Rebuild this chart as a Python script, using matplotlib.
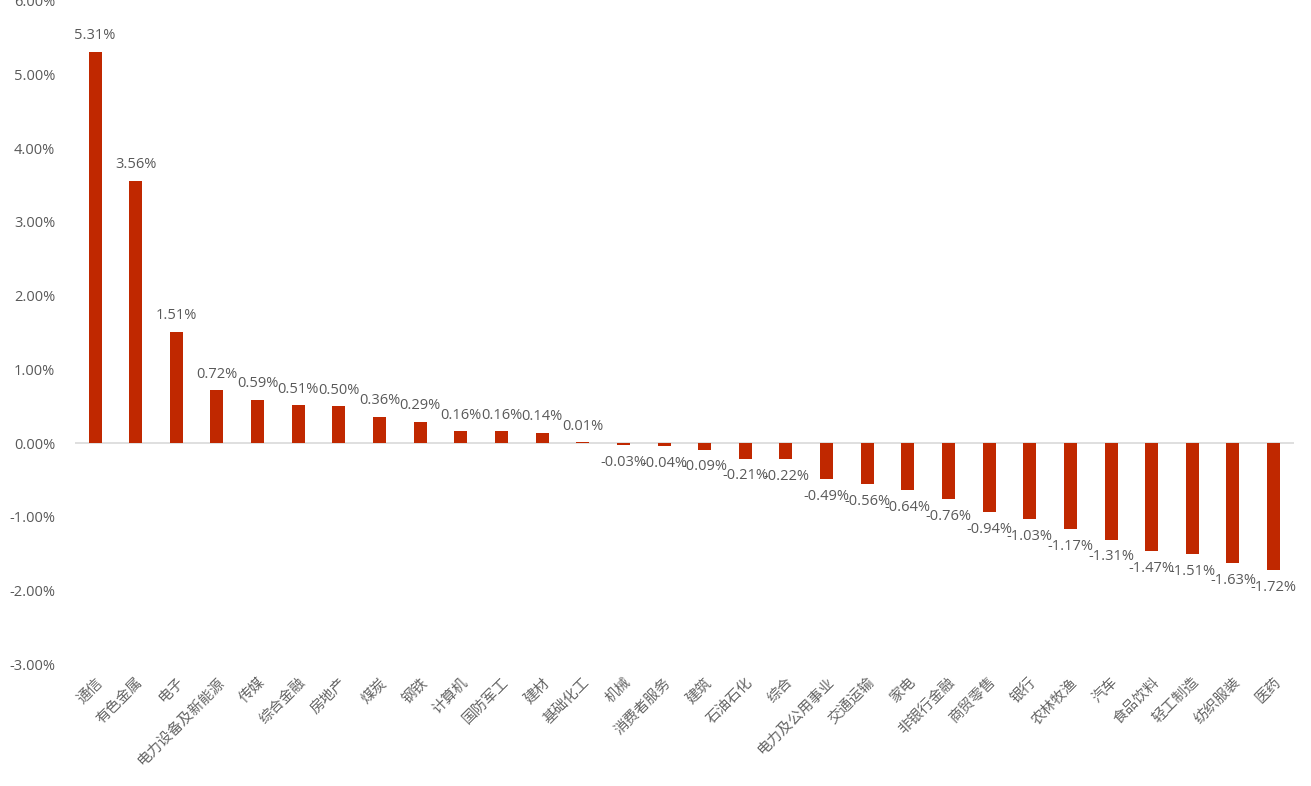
import matplotlib.pyplot as plt
from matplotlib.ticker import FuncFormatter

plt.rcParams['font.family'] = ['Open Sans', 'Noto Sans CJK SC', 'DejaVu Sans']

industries = ["通信", "有色金属", "电子", "电力设备及新能源", "传媒", "综合金融", "房地产",
              "煤炭", "钢铁", "计算机", "国防军工", "建材", "基础化工", "机械", "消费者服务",
              "建筑", "石油石化", "综合", "电力及公用事业", "交通运输", "家电", "非银行金融",
              "商贸零售", "银行", "农林牧渔", "汽车", "食品饮料", "轻工制造", "纺织服装", "医药"]
changes = [5.31, 3.56, 1.51, 0.72, 0.59, 0.51, 0.50, 0.36, 0.29, 0.16, 0.16, 0.14, 0.01,
           -0.03, -0.04, -0.09, -0.21, -0.22, -0.49, -0.56, -0.64, -0.76, -0.94, -1.03,
           -1.17, -1.31, -1.47, -1.51, -1.63, -1.72]

grey = "#595959"

fig = plt.figure(figsize=(13.11, 7.86), dpi=100)
ax = fig.add_axes([0.057, 0.155, 0.93, 0.844])

x = range(len(industries))
ax.bar(x, changes, width=0.32, color="#C02800", zorder=2)
ax.axhline(0, color="#D9D9D9", lw=1.2, zorder=1)

# value labels at the bar ends
for i, v in enumerate(changes):
    if v >= 0:
        ax.annotate(f"{v:.2f}%", (i, v), xytext=(0, 6), textcoords="offset points",
                    ha="center", va="bottom", fontsize=10.5, color=grey)
    else:
        ax.annotate(f"{v:.2f}%", (i, v), xytext=(0, -7), textcoords="offset points",
                    ha="center", va="top", fontsize=10.5, color=grey)

ax.set_xlim(-0.5, len(industries) - 0.5)
ax.set_ylim(-3, 6)
ax.set_yticks(range(-3, 7))
ax.yaxis.set_major_formatter(FuncFormatter(lambda v, p: f"{v:.2f}%"))
ax.tick_params(axis="y", length=0, labelsize=10.5, labelcolor=grey, pad=14)

ax.set_xticks(list(x))
ax.set_xticklabels(industries, rotation=45, ha="right", rotation_mode="anchor",
                   fontsize=10.5, color="#666666", family=["Noto Sans CJK SC"])
ax.tick_params(axis="x", length=0, pad=8)

for s in ax.spines.values():
    s.set_visible(False)

fig.savefig("out.png", dpi=100)
